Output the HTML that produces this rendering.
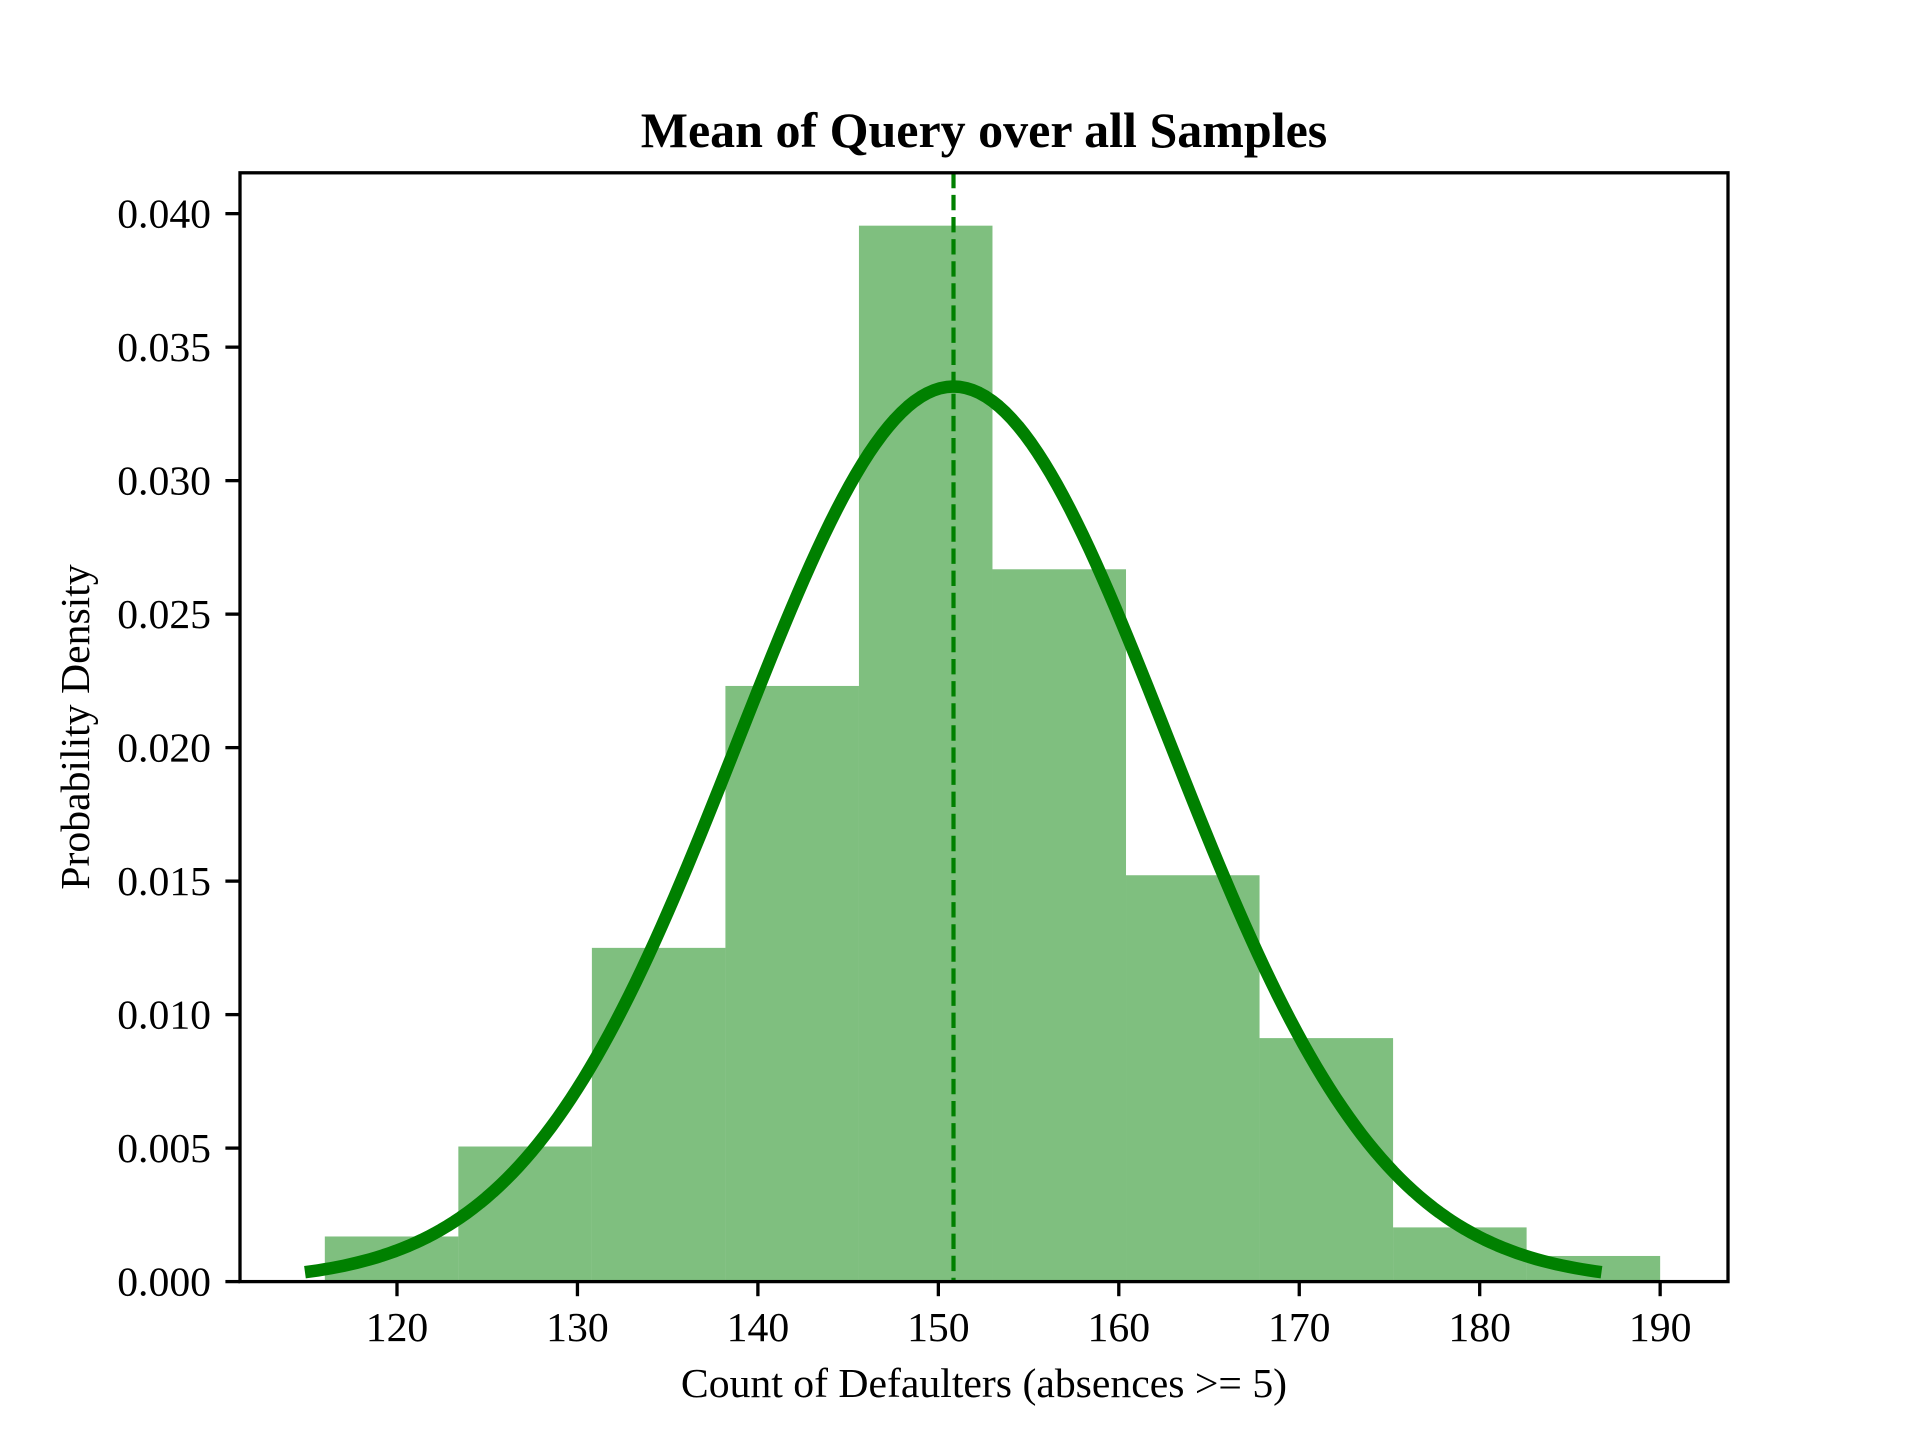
<!DOCTYPE html>
<html><head><meta charset="utf-8"><style>
html,body{margin:0;padding:0;background:#fff;}
svg{display:block;font-family:"Liberation Serif","DejaVu Serif",serif;}
</style></head><body>
<svg id="chart" width="1920" height="1440" viewBox="0 0 1920 1440" xmlns="http://www.w3.org/2000/svg">
<rect width="1920" height="1440" fill="#fff"/>
<g id="bars"></g>
<g id="curve"></g>
<g id="axes"></g>
<text x="984" y="147" text-anchor="middle" font-size="50" font-weight="bold">Mean of Query over all Samples</text>
<text x="984" y="1397" text-anchor="middle" font-size="41.7">Count of Defaulters (absences &gt;= 5)</text>
<text x="0" y="0" transform="translate(89,727) rotate(-90)" text-anchor="middle" font-size="41.7">Probability Density</text>
</svg>
<script>
const binStart = 116.0;
const binEnd = 190.0;
const densities = [0.00169, 0.00506, 0.0125, 0.02231, 0.03955, 0.02668, 0.01522, 0.00912, 0.00203, 0.00096];
const xTicks = [120, 130, 140, 150, 160, 170, 180, 190];
const yTicks = [0, 0.005, 0.010, 0.015, 0.020, 0.025, 0.030, 0.035, 0.040];
const yTickLabels = ["0.000","0.005","0.010","0.015","0.020","0.025","0.030","0.035","0.040"];
const fitMean = 150.84;
const fitStd = 11.9;
const curveRange = [114.9, 186.75];

const L=240, R=1728, T=172.8, B=1281.6;
const xMin=111.3, xMax=193.76, yMin=0, yMax=0.04153;
const sx = v => L + (v-xMin)/(xMax-xMin)*(R-L);
const sy = v => B - (v-yMin)/(yMax-yMin)*(B-T);
const NS="http://www.w3.org/2000/svg";
function mk(tag, attrs, parent){const e=document.createElementNS(NS,tag);for(const k in attrs)e.setAttribute(k,attrs[k]);parent.appendChild(e);return e;}

const bars=document.getElementById('bars');
const w=(binEnd-binStart)/densities.length;
densities.forEach((d,i)=>{
  const x0=sx(binStart+i*w), x1=sx(binStart+(i+1)*w);
  const r=mk('rect',{x:x0,y:sy(d),width:x1-x0,height:sy(0)-sy(d),fill:'#008000','fill-opacity':0.5},bars);
  
  
});

const cg=document.getElementById('curve');
const pts=[];
const N=200;
for(let i=0;i<=N;i++){
  const x=curveRange[0]+(curveRange[1]-curveRange[0])*i/N;
  const y=Math.exp(-0.5*((x-fitMean)/fitStd)**2)/(fitStd*Math.sqrt(2*Math.PI));
  pts.push(sx(x).toFixed(2)+','+sy(y).toFixed(2));
}
const pl=mk('polyline',{points:pts.join(' '),fill:'none',stroke:'#008000','stroke-width':12.5,'stroke-linejoin':'round'},cg);


const ml=mk('line',{x1:sx(fitMean),x2:sx(fitMean),y1:T,y2:B,stroke:'#008000','stroke-width':4.2,'stroke-dasharray':'15.4 6.7'},cg);



const ax=document.getElementById('axes');
const fr=mk('rect',{x:L,y:T,width:R-L,height:B-T,fill:'none',stroke:'#000','stroke-width':3.3},ax);


xTicks.forEach(v=>{
  const x=sx(v);
  const t=mk('line',{x1:x,x2:x,y1:B,y2:B+14.6,stroke:'#000','stroke-width':3.3},ax);
  
  
  const l=mk('text',{x:x,y:1341,'text-anchor':'middle','font-size':41.7},ax);
  l.textContent=v;
  
  
});
yTicks.forEach((v,i)=>{
  const y=sy(v);
  const t=mk('line',{x1:L-14.6,x2:L,y1:y,y2:y,stroke:'#000','stroke-width':3.3},ax);
  
  
  const l=mk('text',{x:211,y:y+14,'text-anchor':'end','font-size':41.7},ax);
  l.textContent=yTickLabels[i];
  
  
});
</script>
</body></html>
